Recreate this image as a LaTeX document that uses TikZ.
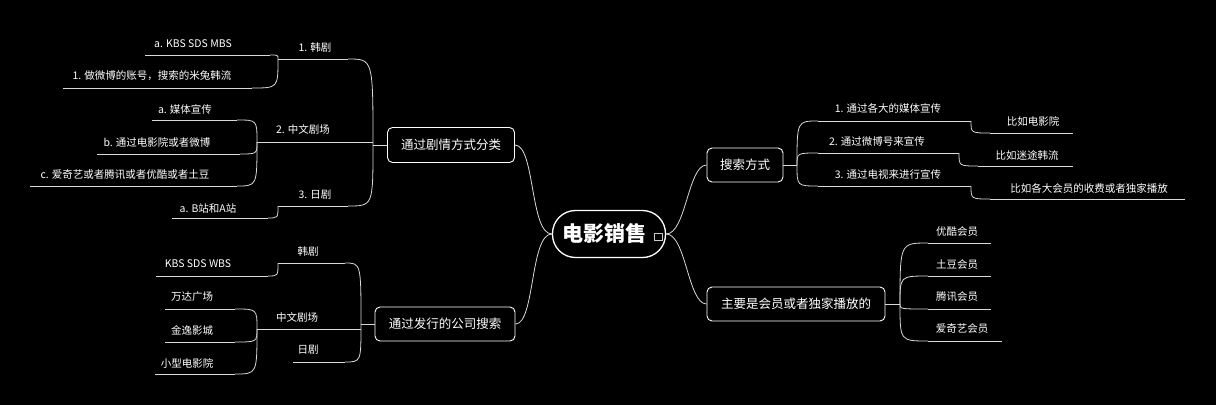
\documentclass[tikz,border=0pt]{standalone}
\usepackage{fontspec}
\setmainfont{Noto Sans CJK SC}
\begin{document}
\begin{tikzpicture}[x=1pt,y=-1pt,
  ln/.style={draw=white!85!black,line width=0.8pt},
  lbl/.style={text=white,font=\fontsize{10.5}{12}\selectfont,inner sep=0pt},
  box/.style={draw=white,line width=0.9pt,rounded corners=5pt,text=white,font=\fontsize{12.5}{14}\selectfont,inner sep=0pt}]
\fill[black] (0,0) rectangle (1216,405);
\useasboundingbox (0,0) rectangle (1216,405);
% central
\node[draw=white,line width=1.3pt,rounded corners=23pt,minimum width=113pt,minimum height=47pt,inner sep=0pt] (c) at (609,234) {};
\node[text=white,font=\fontsize{21}{24}\selectfont\bfseries] (ct) at (604,233) {电影销售};
\node[draw=white!80!black,line width=0.6pt,minimum width=8pt,minimum height=7pt,inner sep=0pt] (ic) at (658,237) {};
% boxes
\node[box,minimum width=127pt,minimum height=35pt] (b1) at (451,145) {通过剧情方式分类};
\node[box,minimum width=140pt,minimum height=34pt] (b2) at (445,324) {通过发行的公司搜索};
\node[box,minimum width=76pt,minimum height=34pt] (b3) at (745,165) {搜索方式};
\node[box,minimum width=178pt,minimum height=34pt] (b4) at (796,304) {主要是会员或者独家播放的};
\draw[ln] (c.west) .. controls (530,234) and (535,145) .. (b1.east);
\draw[ln] (c.west) .. controls (530,234) and (535,324) .. (b2.east);
\draw[ln] (c.east) .. controls (686,234) and (688,165) .. (b3.west);
\draw[ln] (c.east) .. controls (686,234) and (688,304) .. (b4.west);
% forks
\coordinate (f1) at (373,145); \coordinate (f2) at (361,324);
\coordinate (f3) at (797,165); \coordinate (f4) at (900,304);
\draw[ln] (b1.west) -- (f1); \draw[ln] (b2.west) -- (f2);
\draw[ln] (b3.east) -- (f3); \draw[ln] (b4.east) -- (f4);
% ---------- left top
\coordinate (a1s) at (278,59); \coordinate (a1e) at (348,59);
\coordinate (a2s) at (257,142); \coordinate (a2e) at (373,142);
\coordinate (a3s) at (278,206); \coordinate (a3e) at (348,206);
\node[lbl] (a1t) at (315,48) {1. 韩剧};
\node[lbl] (a2t) at (303,129) {2. 中文剧场};
\node[lbl] (a3t) at (315,195) {3. 日剧};
\foreach \n in {a1,a3}{\draw[ln] (\n s) -- (\n e); \draw[ln] (f1) .. controls (f1 |- \n e) .. (\n e);}
\draw[ln] (a2s) -- (a2e);
% grandchildren of 1
\coordinate (g1s) at (145,55); \coordinate (g1e) at (270,55);
\coordinate (g2s) at (63,88); \coordinate (g2e) at (252,88);
\node[lbl] (g1t) at (193,44) {a. KBS SDS MBS};
\node[lbl] (g2t) at (152,76) {1. 做微博的账号，搜索的米兔韩流};
% grandchildren of 2
\coordinate (g3s) at (152,120); \coordinate (g3e) at (237,120);
\coordinate (g4s) at (97,154); \coordinate (g4e) at (240,154);
\coordinate (g5s) at (30,186); \coordinate (g5e) at (237,186);
\node[lbl] (g3t) at (185,109) {a. 媒体宣传};
\node[lbl] (g4t) at (157,142) {b. 通过电影院或者微博};
\node[lbl] (g5t) at (125,175) {c. 爱奇艺或者腾讯或者优酷或者土豆};
% grandchild of 3
\coordinate (g6s) at (172,218); \coordinate (g6e) at (268,218);
\node[lbl] (g6t) at (208,208) {a. B站和A站};
\foreach \n in {g1,g2}{\draw[ln] (\n s) -- (\n e); \draw[ln] (a1s) .. controls (a1s |- \n e) .. (\n e);}
\foreach \n in {g3,g4,g5}{\draw[ln] (\n s) -- (\n e); \draw[ln] (a2s) .. controls (a2s |- \n e) .. (\n e);}
\draw[ln] (g6s) -- (g6e); \draw[ln] (a3s) .. controls (a3s |- g6e) .. (g6e);
% ---------- left bottom
\coordinate (d1s) at (278,263); \coordinate (d1e) at (345,263);
\coordinate (d2s) at (257,329); \coordinate (d2e) at (361,329);
\coordinate (d3s) at (293,362); \coordinate (d3e) at (345,362);
\node[lbl] (d1t) at (308,252) {韩剧};
\node[lbl] (d2t) at (297,317) {中文剧场};
\node[lbl] (d3t) at (308,350) {日剧};
\foreach \n in {d1,d3}{\draw[ln] (\n s) -- (\n e); \draw[ln] (f2) .. controls (f2 |- \n e) .. (\n e);}
\draw[ln] (d2s) -- (d2e);
\coordinate (h1s) at (156,276); \coordinate (h1e) at (268,276);
\node[lbl] (h1t) at (198,264) {KBS SDS WBS};
\draw[ln] (h1s) -- (h1e); \draw[ln] (d1s) .. controls (d1s |- h1e) .. (h1e);
\coordinate (h2s) at (165,309); \coordinate (h2e) at (235,309);
\coordinate (h3s) at (165,342); \coordinate (h3e) at (235,342);
\coordinate (h4s) at (155,374); \coordinate (h4e) at (235,374);
\node[lbl] (h2t) at (192,297) {万达广场};
\node[lbl] (h3t) at (192,330) {金逸影城};
\node[lbl] (h4t) at (187,363) {小型电影院};
\foreach \n in {h2,h3,h4}{\draw[ln] (\n s) -- (\n e); \draw[ln] (d2s) .. controls (d2s |- \n e) .. (\n e);}
% ---------- right top
\coordinate (r1s) at (818,121); \coordinate (r1e) at (971,121);
\coordinate (r2s) at (818,153); \coordinate (r2e) at (959,153);
\coordinate (r3s) at (818,186); \coordinate (r3e) at (971,186);
\node[lbl] (r1t) at (888,108) {1. 通过各大的媒体宣传};
\node[lbl] (r2t) at (877,141) {2. 通过微博号来宣传};
\node[lbl] (r3t) at (888,174) {3. 通过电视来进行宣传};
\foreach \n in {r1,r2,r3}{\draw[ln] (\n s) -- (\n e); \draw[ln] (f3) .. controls (f3 |- \n s) .. (\n s);}
\coordinate (s1s) at (990,133); \coordinate (s1e) at (1073,133);
\coordinate (s2s) at (978,166); \coordinate (s2e) at (1073,166);
\coordinate (s3s) at (990,199); \coordinate (s3e) at (1185,199);
\node[lbl] (s1t) at (1033,121) {比如电影院};
\node[lbl] (s2t) at (1027,155) {比如迷途韩流};
\node[lbl] (s3t) at (1089,188) {比如各大会员的收费或者独家播放};
\draw[ln] (s1s) -- (s1e); \draw[ln] (r1e) .. controls (r1e |- s1s) .. (s1s);
\draw[ln] (s2s) -- (s2e); \draw[ln] (r2e) .. controls (r2e |- s2s) .. (s2s);
\draw[ln] (s3s) -- (s3e); \draw[ln] (r3e) .. controls (r3e |- s3s) .. (s3s);
% ---------- right bottom
\coordinate (m1s) at (928,243); \coordinate (m1e) at (991,243);
\coordinate (m2s) at (928,276); \coordinate (m2e) at (991,276);
\coordinate (m3s) at (928,309); \coordinate (m3e) at (991,309);
\coordinate (m4s) at (928,341); \coordinate (m4e) at (1002,341);
\node[lbl] (m1t) at (957,232) {优酷会员};
\node[lbl] (m2t) at (957,265) {土豆会员};
\node[lbl] (m3t) at (957,297) {腾讯会员};
\node[lbl] (m4t) at (962,329) {爱奇艺会员};
\foreach \n in {m1,m2,m3,m4}{\draw[ln] (\n s) -- (\n e); \draw[ln] (f4) .. controls (f4 |- \n s) .. (\n s);}
\end{tikzpicture}
\end{document}
